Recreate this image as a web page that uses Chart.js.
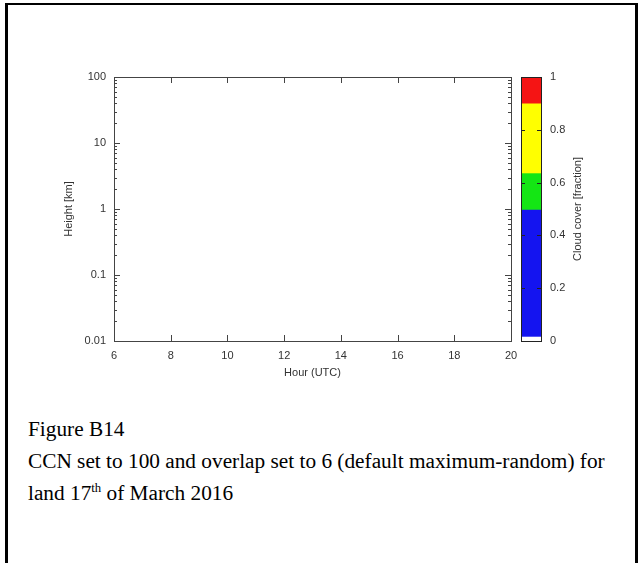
<!DOCTYPE html>
<html>
<head>
<meta charset="utf-8">
<script src="https://cdn.jsdelivr.net/npm/chart.js@4.4.1/dist/chart.umd.min.js"></script>
<style>
  html, body { margin: 0; padding: 0; background: #fff; overflow: hidden; }
  body { width: 641px; height: 563px; position: relative; }
  #frame { position: absolute; left: 5px; top: 3px; width: 633px; height: 640px; box-sizing: border-box;
           border: 3px solid #000; border-top-width: 2px; border-bottom: none; }
  #plotCanvas { position: absolute; left: 0; top: 0; }
  #cbCanvas { position: absolute; left: 500px; top: 0; }
  #caption { position: absolute; left: 28px; top: 413px; font-family: 'Liberation Serif', 'Times New Roman', serif;
             font-size: 21.3px; line-height: 32px; color: #000; white-space: nowrap; }
  #caption sup { font-size: 0.6em; line-height: 0; vertical-align: super; }
</style>
</head>
<body>
<div id="frame"></div>
<canvas id="plotCanvas" width="530" height="400"></canvas>
<canvas id="cbCanvas" width="141" height="400"></canvas>
<div id="caption">
  <div>Figure B14</div>
  <div>CCN set to 100 and overlap set to 6 (default maximum-random) for</div>
  <div>land 17<sup>th</sup> of March 2016</div>
</div>
<script>
// axis ranges / ticks of the (empty) cloud plot
const hourMin = 6, hourMax = 20, hourStep = 2;
const heightDecades = [0.01, 0.1, 1, 10, 100];
const minorFactors = [2, 3, 4, 5, 6, 7, 8, 9];

// colour bar bands (cloud cover fraction)
const cloudBands = ['none', 'low', 'mid', 'high', 'full'];
const cloudFrom = [0, 0.015, 0.496, 0.634, 0.898];
const cloudTo = [0.015, 0.496, 0.634, 0.898, 1];
const cloudColors = ['#ffffff', '#1414f0', '#14e614', '#ffff00', '#f51414'];
const cloudTicks = [0, 0.2, 0.4, 0.6, 0.8, 1];

Chart.defaults.font.family = "'Liberation Sans', Arial, sans-serif";
Chart.defaults.font.size = 11;
Chart.defaults.color = '#333';

const heightTicks = heightDecades.flatMap((d, i) =>
    i < heightDecades.length - 1 ? [d, ...minorFactors.map(f => +(d * f).toPrecision(3))] : [d]);

const framePlugin = {
    id: 'frame',
    afterDraw(chart) {
        const { ctx, chartArea: a, scales: { x, y } } = chart;
        ctx.save();
        ctx.strokeStyle = '#444';
        ctx.lineWidth = 1;
        ctx.strokeRect(a.left + 0.5, a.top + 0.5, a.width, a.height);
        ctx.beginPath();
        x.ticks.forEach(t => {
            const px = Math.round(x.getPixelForValue(t.value)) + 0.5;
            ctx.moveTo(px, a.bottom); ctx.lineTo(px, a.bottom - 6);
            ctx.moveTo(px, a.top); ctx.lineTo(px, a.top + 6);
        });
        y.ticks.forEach(t => {
            const len = heightDecades.includes(t.value) ? 6 : 3;
            const py = Math.round(y.getPixelForValue(t.value)) + 0.5;
            ctx.moveTo(a.left, py); ctx.lineTo(a.left + len, py);
            ctx.moveTo(a.right, py); ctx.lineTo(a.right - len, py);
        });
        ctx.stroke();
        ctx.restore();
    }
};

new Chart(document.getElementById('plotCanvas'), {
    type: 'scatter',
    data: { datasets: [{ label: 'cloud', data: [] }] },
    options: {
        responsive: false,
        animation: false,
        events: [],
        layout: { padding: { left: 58, top: 77, right: 19, bottom: 0 } },
        plugins: { legend: { display: false }, tooltip: { enabled: false } },
        scales: {
            x: {
                type: 'linear', min: hourMin, max: hourMax,
                afterFit: s => { s.height = 59; },
                grid: { display: false, drawTicks: false }, border: { display: false },
                ticks: { stepSize: hourStep, padding: 8, maxRotation: 0, autoSkip: false },
                title: { display: true, text: 'Hour (UTC)', padding: { top: 0, bottom: 20 } }
            },
            y: {
                type: 'logarithmic', min: heightDecades[0], max: heightDecades[heightDecades.length - 1],
                afterBuildTicks: s => { s.ticks = heightTicks.map(v => ({ value: v })); },
                afterFit: s => { s.width = 56; },
                grid: { display: false, drawTicks: false }, border: { display: false },
                ticks: {
                    autoSkip: false, padding: 8,
                    callback: v => heightDecades.includes(v) ? String(v) : ''
                },
                title: { display: true, text: 'Height [km]', padding: { top: 4, bottom: 0 } }
            }
        }
    },
    plugins: [framePlugin]
});

const colorbarPlugin = {
    id: 'colorbar',
    afterDraw(chart) {
        const { ctx, chartArea: a, scales: { y } } = chart;
        ctx.save();
        ctx.strokeStyle = '#222';
        ctx.lineWidth = 1;
        ctx.strokeRect(a.left + 0.5, a.top + 0.5, a.width, a.height);
        ctx.beginPath();
        cloudTicks.slice(1, -1).forEach(v => {
            const py = Math.round(y.getPixelForValue(v)) + 0.5;
            ctx.moveTo(a.left, py); ctx.lineTo(a.left + 4, py);
            ctx.moveTo(a.right, py); ctx.lineTo(a.right - 4, py);
        });
        ctx.stroke();
        // rotated axis title (reads bottom to top)
        ctx.translate(a.right + 37, (a.top + a.bottom) / 2);
        ctx.rotate(-Math.PI / 2);
        ctx.fillStyle = '#333';
        ctx.font = "11px 'Liberation Sans', Arial, sans-serif";
        ctx.textAlign = 'center';
        ctx.textBaseline = 'middle';
        ctx.fillText('Cloud cover [fraction]', 0, 0);
        ctx.restore();
    }
};

new Chart(document.getElementById('cbCanvas'), {
    type: 'bar',
    data: {
        labels: ['cover'],
        datasets: cloudBands.map((name, i) => ({
            label: name,
            data: [[cloudFrom[i], cloudTo[i]]],
            backgroundColor: cloudColors[i],
            borderWidth: 0,
            barPercentage: 1,
            categoryPercentage: 1,
            grouped: false
        }))
    },
    options: {
        responsive: false,
        animation: false,
        events: [],
        layout: { padding: { left: 21, top: 77, right: 0, bottom: 59 } },
        plugins: { legend: { display: false }, tooltip: { enabled: false } },
        scales: {
            x: { display: false },
            y: {
                position: 'right', min: 0, max: 1,
                afterBuildTicks: s => { s.ticks = cloudTicks.map(v => ({ value: v })); },
                afterFit: s => { s.width = 100; },
                grid: { display: false, drawTicks: false }, border: { display: false },
                ticks: { padding: 9, autoSkip: false, callback: v => String(v) }
            }
        }
    },
    plugins: [colorbarPlugin]
});
</script>
</body>
</html>
